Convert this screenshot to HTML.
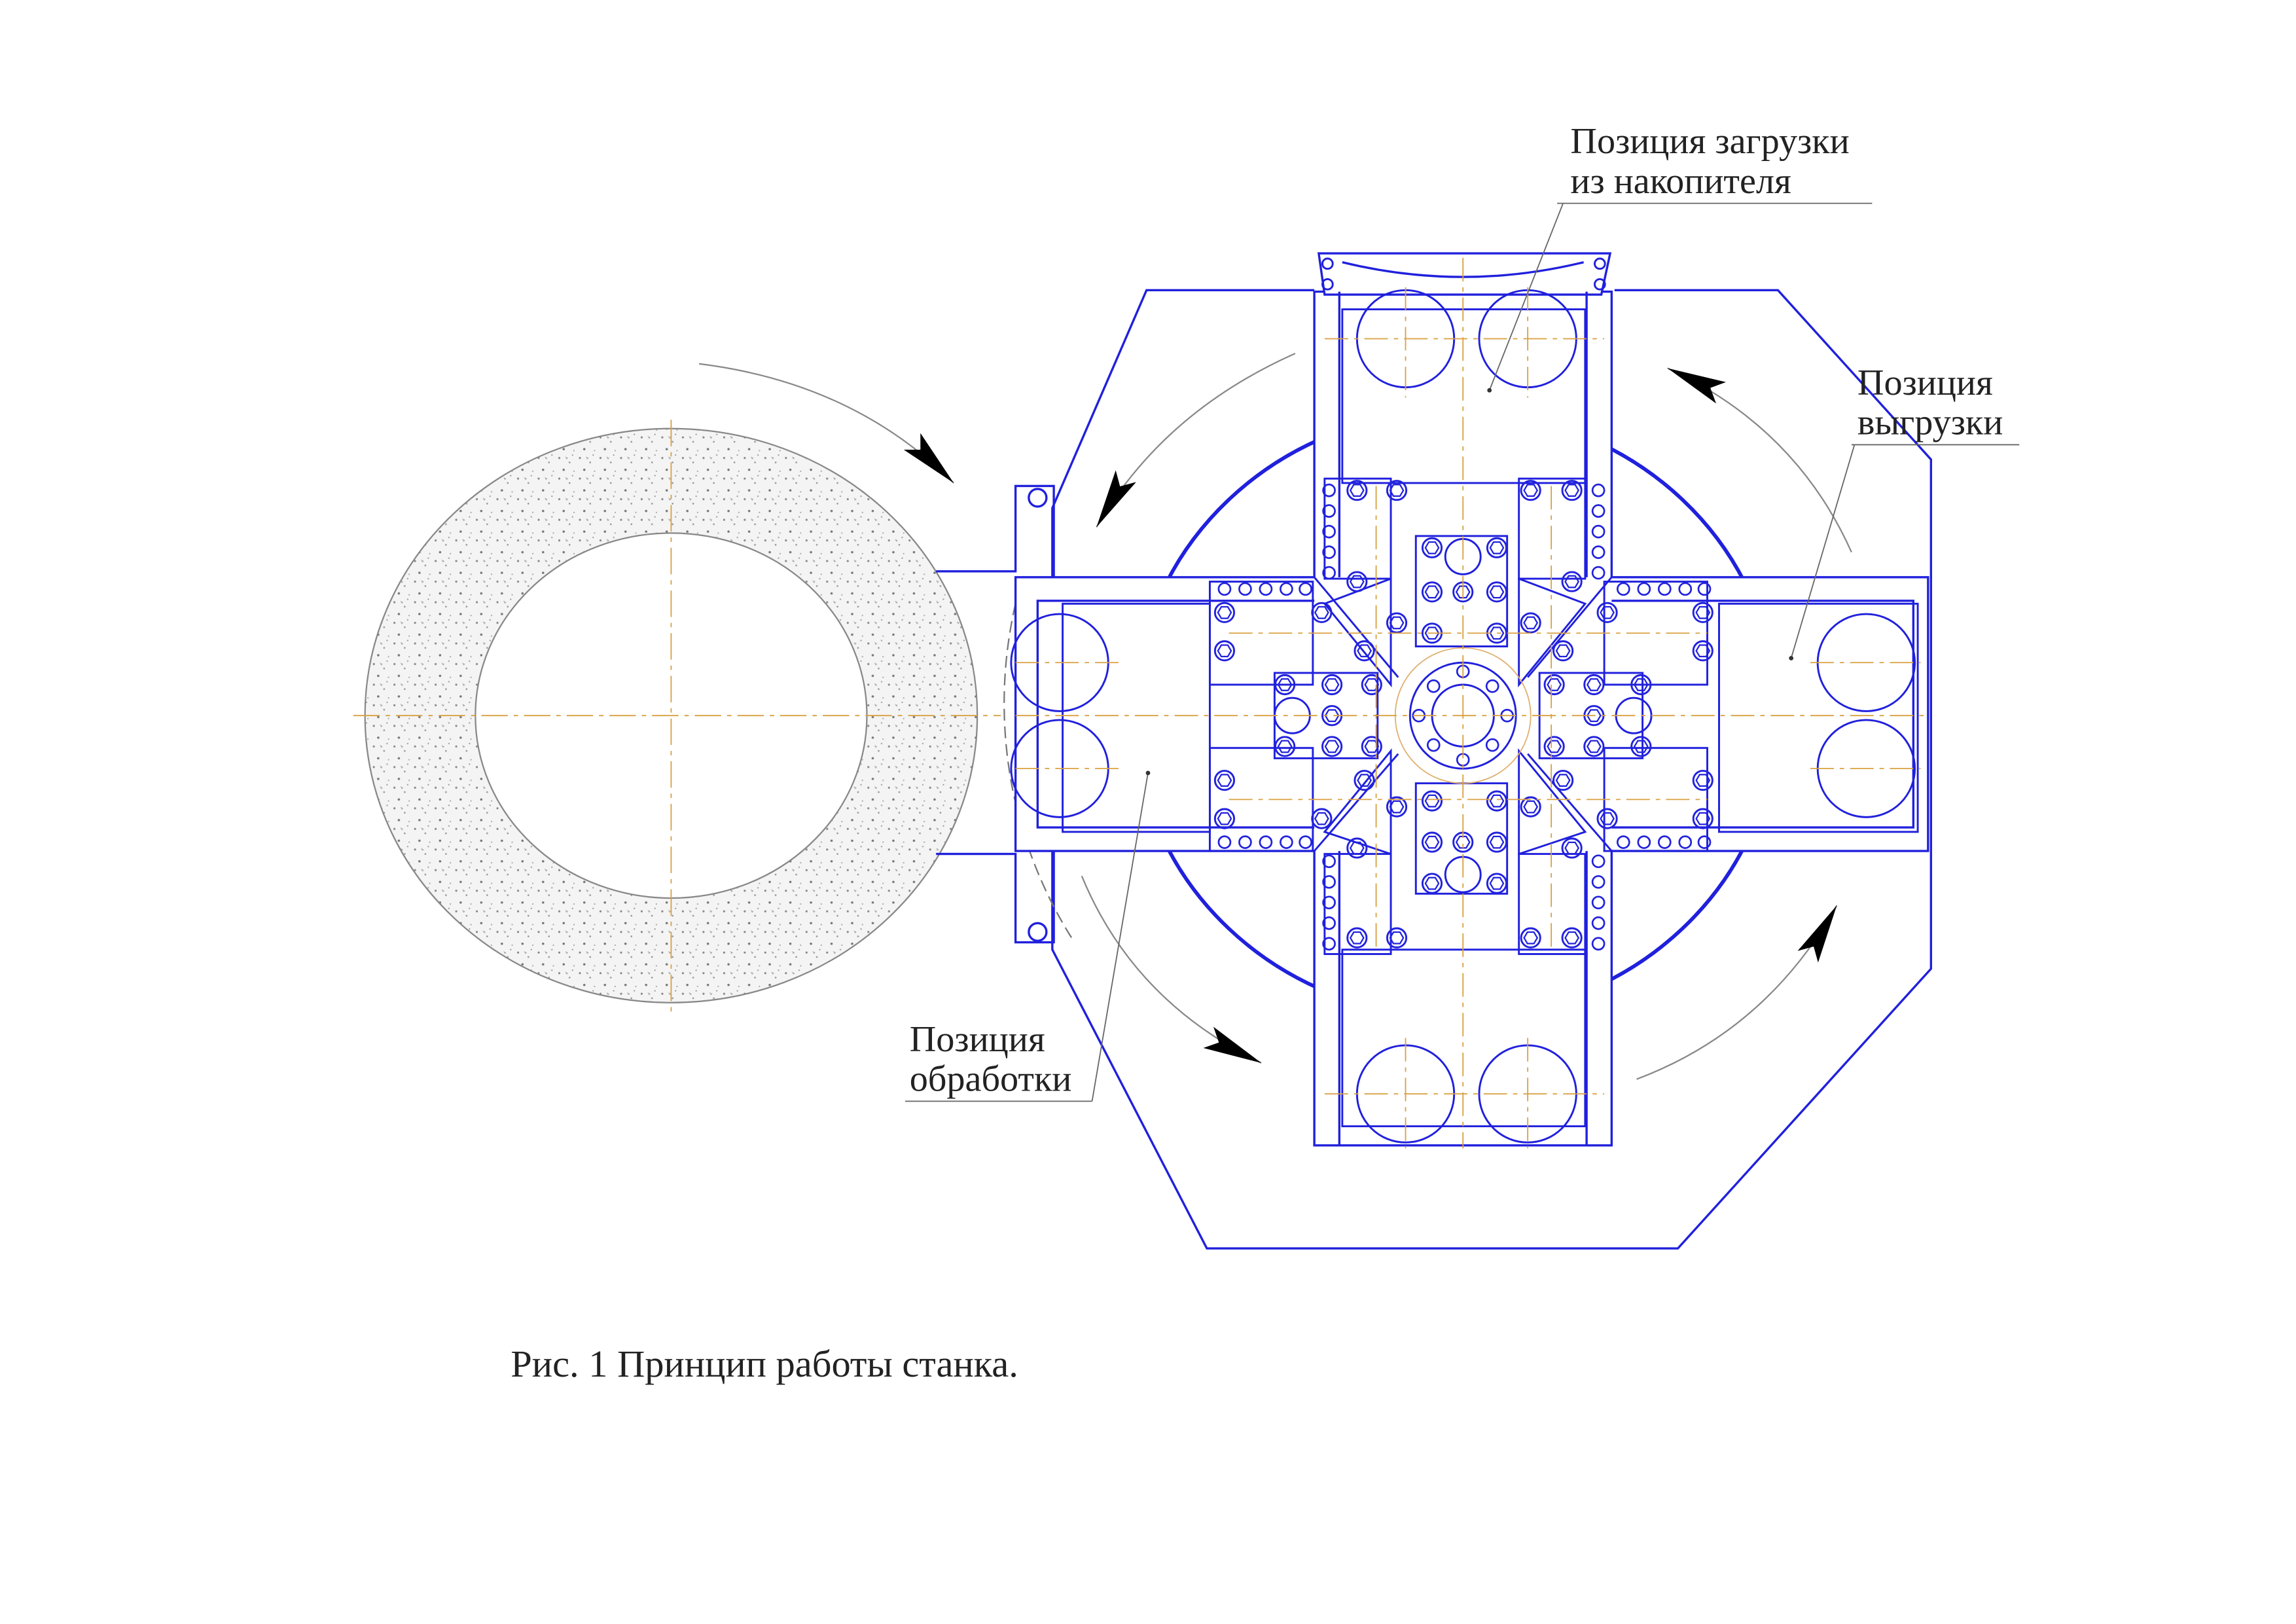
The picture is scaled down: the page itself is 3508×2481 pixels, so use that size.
<!DOCTYPE html>
<html><head><meta charset="utf-8"><style>
html,body{margin:0;padding:0;background:#fff}
svg{display:block}
text{font-family:"Liberation Serif",serif;fill:#222}
</style></head><body>
<svg width="3508" height="2481" viewBox="0 0 1560 1103" xmlns="http://www.w3.org/2000/svg">
<defs>
<pattern id="sp" width="14" height="14" patternUnits="userSpaceOnUse">
<rect width="14" height="14" fill="#f4f4f4"/>
<circle cx="2" cy="3" r="0.7" fill="#888"/><circle cx="9" cy="6" r="0.6" fill="#999"/>
<circle cx="5" cy="11" r="0.8" fill="#777"/><circle cx="12" cy="12" r="0.5" fill="#aaa"/>
<circle cx="11" cy="1" r="0.5" fill="#999"/><path d="M6 2 l2 1 l-1 1z" fill="#aaa"/>
</pattern>
<g id="hb"><circle r="6.5" fill="none" stroke="#2222dd" stroke-width="1.3"/><polygon points="4.5,0 2.2,3.9 -2.2,3.9 -4.5,0 -2.2,-3.9 2.2,-3.9" fill="none" stroke="#2222dd" stroke-width="1"/></g>
<g id="sb"><circle r="4" fill="none" stroke="#2222dd" stroke-width="1.2"/></g>
<marker id="ah" viewBox="0 0 40 16" refX="40" refY="8" markerWidth="40" markerHeight="16" markerUnits="userSpaceOnUse" orient="auto"><path d="M0 0 L40 8 L0 16 L8 8z" fill="#000"/></marker>
</defs>

<path d="M248 486 a208 195 0 1 0 416 0 a208 195 0 1 0 -416 0 M323 486 a133 124 0 1 1 266 0 a133 124 0 1 1 -266 0z" fill="url(#sp)" fill-rule="evenodd" stroke="#888" stroke-width="1"/>
<line x1="240" y1="486" x2="680" y2="486" stroke="#d9a040" stroke-width="0.8" stroke-dasharray="18 4 3 4"/>
<line x1="456" y1="285" x2="456" y2="690" stroke="#d9a040" stroke-width="0.8" stroke-dasharray="18 4 3 4"/>

<g fill="none" stroke="#2020dd" stroke-width="1.5">
<polyline points="893,197 779,197 715,345 715,645 820,848 1140,848 1312,658 1312,312 1208,197 1097,197"/>
<polyline points="636,388 690,388 690,330 716,330 716,395"/>
<polyline points="636,580 690,580 690,640 716,640 716,575"/>
<circle cx="705" cy="338" r="6"/><circle cx="705" cy="633" r="6"/>
<ellipse cx="989" cy="485" rx="218" ry="206" stroke-width="2.5"/>
</g>
<path d="M690 410 A300 300 0 0 0 730 640" fill="none" stroke="#777" stroke-width="1" stroke-dasharray="8 4"/>
<path d="M772 400 A230 230 0 0 0 772 575" fill="none" stroke="#555" stroke-width="1.2" stroke-dasharray="8 4"/>

<!-- cross body -->
<path d="M893 198 H1095 V392 H1310 V578 H1095 V778 H893 V578 H690 V392 H893 Z" fill="#fff" stroke="#2020dd" stroke-width="1.5"/>
<g fill="none" stroke="#2020dd" stroke-width="1.5">
<path d="M896 172 L1094 172 L1088 200 L900 200z" fill="#fff"/>
<path d="M912 178 Q994 198 1076 178"/>
<polyline points="910,392 910,198"/><polyline points="1078,392 1078,198"/>
<polyline points="910,578 910,778"/><polyline points="1078,578 1078,778"/>
<polyline points="893,408 705,408 705,562 893,562"/>
<polyline points="1095,408 1300,408 1300,562 1095,562"/>
</g>
<g fill="none" stroke="#2020dd" stroke-width="1.3">
<circle cx="902" cy="179" r="3.5"/><circle cx="902" cy="193" r="3.5"/><circle cx="1087" cy="179" r="3.5"/><circle cx="1087" cy="193" r="3.5"/>
<rect x="912" y="210" width="165" height="118"/>
<rect x="912" y="645" width="165" height="120"/>
<rect x="722" y="410" width="100" height="155"/>
<rect x="1168" y="410" width="135" height="155"/>
<circle cx="955" cy="230" r="33"/><circle cx="1038" cy="230" r="33"/>
<circle cx="955" cy="743" r="33"/><circle cx="1038" cy="743" r="33"/>
<circle cx="1268" cy="450" r="33"/><circle cx="1268" cy="522" r="33"/>
<circle cx="720" cy="450" r="33"/><circle cx="720" cy="522" r="33"/>
<rect x="900" y="325" width="45" height="68"/><rect x="1032" y="325" width="45" height="68"/>
<rect x="900" y="580" width="45" height="68"/><rect x="1032" y="580" width="45" height="68"/>
<rect x="822" y="395" width="70" height="70"/><rect x="1090" y="395" width="70" height="70"/>
<rect x="822" y="508" width="70" height="70"/><rect x="1090" y="508" width="70" height="70"/>
<rect x="962" y="364" width="62" height="75"/><rect x="962" y="532" width="62" height="75"/>
<rect x="866" y="457" width="70" height="58"/><rect x="1046" y="457" width="70" height="58"/>
<polygon points="945,393 945,465 900,410"/><polygon points="1032,393 1032,465 1077,410"/>
<polygon points="945,580 945,510 900,565"/><polygon points="1032,580 1032,510 1077,565"/>
<line x1="893" y1="392" x2="950" y2="460"/><line x1="1095" y1="392" x2="1038" y2="460"/>
<line x1="893" y1="578" x2="950" y2="512"/><line x1="1095" y1="578" x2="1038" y2="512"/>
<circle cx="994" cy="486" r="36"/><circle cx="994" cy="486" r="21"/>
<circle cx="994" cy="486" r="46" stroke="#e0b070" stroke-width="0.8"/>
<circle cx="994" cy="378" r="12"/><circle cx="994" cy="594" r="12"/>
<circle cx="878" cy="486" r="12"/><circle cx="1110" cy="486" r="12"/>
</g>
<g>
<use href="#hb" x="922" y="333"/><use href="#hb" x="949" y="333"/><use href="#hb" x="1040" y="333"/><use href="#hb" x="1068" y="333"/>
<use href="#hb" x="922" y="395"/><use href="#hb" x="949" y="423"/><use href="#hb" x="1040" y="423"/><use href="#hb" x="1068" y="395"/>
<use href="#hb" x="922" y="637"/><use href="#hb" x="949" y="637"/><use href="#hb" x="1040" y="637"/><use href="#hb" x="1068" y="637"/>
<use href="#hb" x="922" y="576"/><use href="#hb" x="949" y="548"/><use href="#hb" x="1040" y="548"/><use href="#hb" x="1068" y="576"/>
<use href="#hb" x="832" y="416"/><use href="#hb" x="832" y="442"/><use href="#hb" x="898" y="416"/><use href="#hb" x="927" y="442"/>
<use href="#hb" x="832" y="530"/><use href="#hb" x="832" y="556"/><use href="#hb" x="898" y="556"/><use href="#hb" x="927" y="530"/>
<use href="#hb" x="1157" y="416"/><use href="#hb" x="1157" y="442"/><use href="#hb" x="1092" y="416"/><use href="#hb" x="1062" y="442"/>
<use href="#hb" x="1157" y="530"/><use href="#hb" x="1157" y="556"/><use href="#hb" x="1092" y="556"/><use href="#hb" x="1062" y="530"/>
<use href="#hb" x="973" y="372"/><use href="#hb" x="1017" y="372"/><use href="#hb" x="973" y="402"/><use href="#hb" x="994" y="402"/><use href="#hb" x="1017" y="402"/><use href="#hb" x="973" y="430"/><use href="#hb" x="1017" y="430"/>
<use href="#hb" x="973" y="544"/><use href="#hb" x="1017" y="544"/><use href="#hb" x="973" y="572"/><use href="#hb" x="994" y="572"/><use href="#hb" x="1017" y="572"/><use href="#hb" x="973" y="600"/><use href="#hb" x="1017" y="600"/>
<use href="#hb" x="873" y="465"/><use href="#hb" x="905" y="465"/><use href="#hb" x="932" y="465"/><use href="#hb" x="873" y="507"/><use href="#hb" x="905" y="507"/><use href="#hb" x="932" y="507"/><use href="#hb" x="905" y="486"/>
<use href="#hb" x="1056" y="465"/><use href="#hb" x="1083" y="465"/><use href="#hb" x="1115" y="465"/><use href="#hb" x="1056" y="507"/><use href="#hb" x="1083" y="507"/><use href="#hb" x="1115" y="507"/><use href="#hb" x="1083" y="486"/>
<use href="#sb" x="903" y="333"/><use href="#sb" x="903" y="347"/><use href="#sb" x="903" y="361"/><use href="#sb" x="903" y="375"/><use href="#sb" x="903" y="389"/>
<use href="#sb" x="1086" y="333"/><use href="#sb" x="1086" y="347"/><use href="#sb" x="1086" y="361"/><use href="#sb" x="1086" y="375"/><use href="#sb" x="1086" y="389"/>
<use href="#sb" x="903" y="585"/><use href="#sb" x="903" y="599"/><use href="#sb" x="903" y="613"/><use href="#sb" x="903" y="627"/><use href="#sb" x="903" y="641"/>
<use href="#sb" x="1086" y="585"/><use href="#sb" x="1086" y="599"/><use href="#sb" x="1086" y="613"/><use href="#sb" x="1086" y="627"/><use href="#sb" x="1086" y="641"/>
<use href="#sb" x="832" y="400"/><use href="#sb" x="846" y="400"/><use href="#sb" x="860" y="400"/><use href="#sb" x="874" y="400"/><use href="#sb" x="887" y="400"/>
<use href="#sb" x="832" y="572"/><use href="#sb" x="846" y="572"/><use href="#sb" x="860" y="572"/><use href="#sb" x="874" y="572"/><use href="#sb" x="887" y="572"/>
<use href="#sb" x="1103" y="400"/><use href="#sb" x="1117" y="400"/><use href="#sb" x="1131" y="400"/><use href="#sb" x="1145" y="400"/><use href="#sb" x="1158" y="400"/>
<use href="#sb" x="1103" y="572"/><use href="#sb" x="1117" y="572"/><use href="#sb" x="1131" y="572"/><use href="#sb" x="1145" y="572"/><use href="#sb" x="1158" y="572"/>
<use href="#sb" x="994" y="456"/><use href="#sb" x="994" y="516"/><use href="#sb" x="964" y="486"/><use href="#sb" x="1024" y="486"/>
<use href="#sb" x="974" y="466"/><use href="#sb" x="1014" y="466"/><use href="#sb" x="974" y="506"/><use href="#sb" x="1014" y="506"/>
</g>
<g stroke="#d9a040" stroke-width="0.8" stroke-dasharray="16 4 3 4" fill="none">
<line x1="994" y1="175" x2="994" y2="780"/>
<line x1="690" y1="486" x2="1310" y2="486"/>
<line x1="900" y1="230" x2="1090" y2="230"/><line x1="900" y1="743" x2="1090" y2="743"/>
<line x1="955" y1="195" x2="955" y2="270"/><line x1="1038" y1="195" x2="1038" y2="270"/>
<line x1="955" y1="705" x2="955" y2="780"/><line x1="1038" y1="705" x2="1038" y2="780"/>
<line x1="690" y1="450" x2="760" y2="450"/><line x1="690" y1="522" x2="760" y2="522"/>
<line x1="1230" y1="450" x2="1305" y2="450"/><line x1="1230" y1="522" x2="1305" y2="522"/>
<line x1="835" y1="430" x2="1160" y2="430"/><line x1="835" y1="543" x2="1160" y2="543"/>
<line x1="935" y1="330" x2="935" y2="645"/><line x1="1054" y1="330" x2="1054" y2="645"/>
</g>

<g fill="none" stroke="#888" stroke-width="1" marker-end="url(#ah)">
<path d="M475 247 Q580 260 648 328"/>
<path d="M880 240 Q790 280 745 358"/>
<path d="M1258 375 Q1220 290 1133 250"/>
<path d="M1112 733 Q1200 700 1248 615"/>
<path d="M735 595 Q770 680 857 722"/>
</g>

<g stroke="#666" stroke-width="0.8" fill="none">
<line x1="1058" y1="138" x2="1272" y2="138"/><line x1="1062" y1="138" x2="1012" y2="265"/>
<line x1="1258" y1="302" x2="1372" y2="302"/><line x1="1260" y1="302" x2="1217" y2="447"/>
<line x1="615" y1="748" x2="742" y2="748"/><line x1="742" y1="748" x2="780" y2="525"/>
</g>
<circle cx="1012" cy="265" r="1.5" fill="#333"/><circle cx="1217" cy="447" r="1.5" fill="#333"/><circle cx="780" cy="525" r="1.5" fill="#333"/>
<text x="1067" y="104" font-size="25">Позиция загрузки</text>
<text x="1067" y="131" font-size="25">из накопителя</text>
<text x="1262" y="268" font-size="25">Позиция</text>
<text x="1262" y="295" font-size="25">выгрузки</text>
<text x="618" y="714" font-size="25">Позиция</text>
<text x="618" y="741" font-size="25">обработки</text>
<text x="347" y="935" font-size="26">Рис. 1 Принцип работы станка.</text>
</svg>
</body></html>
